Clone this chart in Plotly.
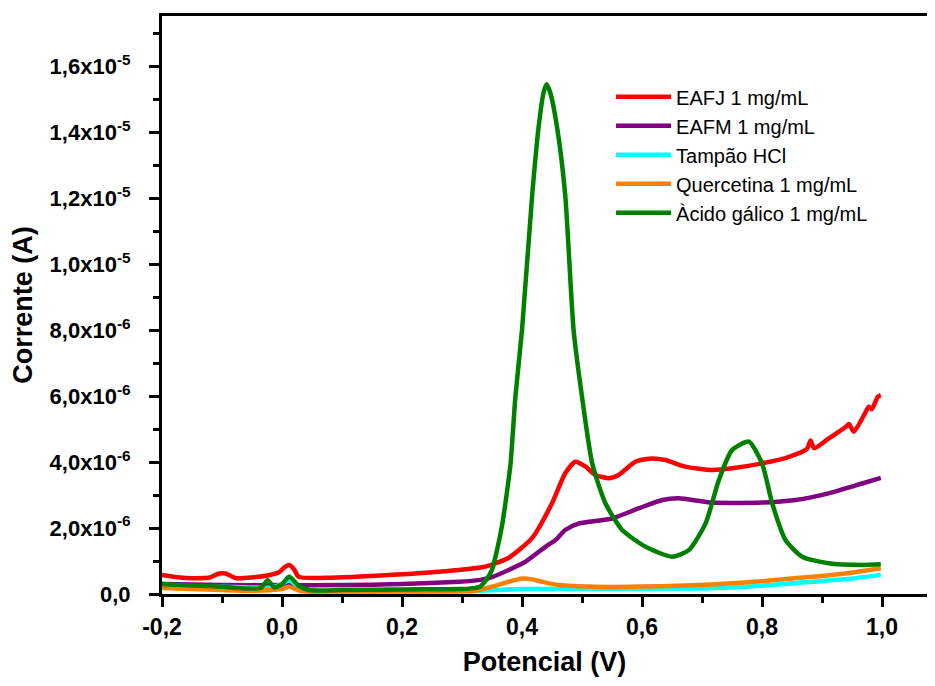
import plotly.graph_objects as go
import numpy as np

SCALE = 1e-6  # values below are read in units of 1e-6 A

names = ["EAFJ 1 mg/mL", "EAFM 1 mg/mL", "Tampão HCl", "Quercetina 1 mg/mL", "Àcido gálico 1 mg/mL"]
colors = ["#ff0000", "#800080", "#00ffff", "#ff8000", "#008000"]

eafj_x = [-0.2, -0.17, -0.149, -0.12, -0.105, -0.094, -0.077, -0.05, -0.022, -0.005, 0.005, 0.012, 0.02, 0.028,
          0.073, 0.184, 0.295, 0.339, 0.378, 0.417, 0.45, 0.472, 0.489, 0.506, 0.522, 0.545, 0.561, 0.589, 0.617,
          0.639, 0.672, 0.717, 0.75, 0.8, 0.845, 0.875, 0.881, 0.887, 0.91, 0.94, 0.945, 0.953, 0.97, 0.978,
          0.983, 0.993, 0.998]
eafj_y = [0.58, 0.50, 0.48, 0.50, 0.62, 0.62, 0.48, 0.50, 0.57, 0.66, 0.82, 0.88, 0.75, 0.52,
          0.49, 0.58, 0.73, 0.83, 1.10, 1.70, 2.75, 3.66, 4.01, 3.86, 3.61, 3.51, 3.61, 4.01, 4.11,
          4.06, 3.86, 3.76, 3.81, 3.96, 4.16, 4.40, 4.65, 4.42, 4.70, 5.07, 5.15, 4.92, 5.42, 5.68,
          5.60, 5.98, 6.03]

eafm_x = [-0.2, -0.1, 0.0, 0.1, 0.2, 0.295, 0.328, 0.351, 0.384, 0.406, 0.439, 0.456, 0.472, 0.495, 0.55,
          0.595, 0.634, 0.661, 0.717, 0.8, 0.856, 0.911, 0.967, 0.998]
eafm_y = [0.30, 0.27, 0.27, 0.27, 0.30, 0.37, 0.42, 0.52, 0.78, 0.98, 1.43, 1.64, 1.94, 2.14, 2.29,
          2.60, 2.85, 2.90, 2.77, 2.77, 2.85, 3.05, 3.35, 3.52]

tampao_x = [-0.2, -0.1, -0.02, 0.0, 0.012, 0.025, 0.04, 0.1, 0.3, 0.4, 0.7, 0.8, 0.883, 0.95, 0.998]
tampao_y = [0.25, 0.22, 0.20, 0.30, 0.42, 0.25, 0.08, 0.06, 0.08, 0.15, 0.17, 0.25, 0.37, 0.47, 0.58]

querc_x = [-0.2, -0.1, -0.05, 0.0, 0.012, 0.03, 0.1, 0.2, 0.3, 0.323, 0.35, 0.378, 0.4, 0.415, 0.434, 0.462,
           0.522, 0.661, 0.772, 0.883, 0.939, 0.998]
querc_y = [0.18, 0.12, 0.10, 0.15, 0.22, 0.10, 0.08, 0.08, 0.08, 0.10, 0.22, 0.37, 0.47, 0.45, 0.37, 0.27,
           0.22, 0.25, 0.35, 0.52, 0.62, 0.78]

galico_x = [-0.2, -0.15, -0.1, -0.06, -0.035, -0.024, -0.013, 0.0, 0.012, 0.028, 0.045, 0.1, 0.2, 0.3,
            0.315, 0.33, 0.34, 0.35, 0.358, 0.367, 0.375, 0.381, 0.389, 0.4, 0.417, 0.428, 0.436, 0.441, 0.447,
            0.458, 0.472, 0.486, 0.5, 0.517, 0.539, 0.567, 0.606, 0.65, 0.678, 0.706, 0.728, 0.75, 0.778, 0.8,
            0.817, 0.839, 0.867, 0.911, 0.967, 0.998]
galico_y = [0.30, 0.26, 0.22, 0.17, 0.18, 0.42, 0.20, 0.30, 0.52, 0.25, 0.12, 0.12, 0.14, 0.15,
            0.17, 0.22, 0.42, 0.73, 1.30, 2.10, 3.10, 3.96, 5.98, 8.00, 12.1, 14.2, 15.2, 15.45, 15.2,
            14.2, 12.1, 8.0, 5.98, 3.96, 2.75, 1.94, 1.43, 1.13, 1.33, 2.14, 3.45, 4.36, 4.62, 3.96,
            2.75, 1.64, 1.13, 0.93, 0.88, 0.90]

y_tickvals = [0, 2e-6, 4e-6, 6e-6, 8e-6, 1.0e-5, 1.2e-5, 1.4e-5, 1.6e-5]
y_ticktext = ["0,0", "2,0x10<sup>-6</sup>", "4,0x10<sup>-6</sup>", "6,0x10<sup>-6</sup>", "8,0x10<sup>-6</sup>",
              "1,0x10<sup>-5</sup>", "1,2x10<sup>-5</sup>", "1,4x10<sup>-5</sup>", "1,6x10<sup>-5</sup>"]
x_tickvals = [-0.2, 0.0, 0.2, 0.4, 0.6, 0.8, 1.0]
x_ticktext = ["-0,2", "0,0", "0,2", "0,4", "0,6", "0,8", "1,0"]

series = [(eafj_x, eafj_y), (eafm_x, eafm_y), (tampao_x, tampao_y), (querc_x, querc_y), (galico_x, galico_y)]

fig = go.Figure()
for (xs, ys), name, c in zip(series, names, colors):
    fig.add_trace(go.Scatter(x=xs, y=np.array(ys) * SCALE, mode="lines", name=name,
                             line=dict(color=c, width=4.5, shape="spline", smoothing=0.6)))

FAM = "Liberation Sans, Arial"

# page has an 8px body margin; figure sized so the page fits 935x686 exactly
fig.update_layout(
    width=919, height=670,
    margin=dict(l=154, r=0, t=8, b=84),
    paper_bgcolor="white", plot_bgcolor="white",
    showlegend=True,
    legend=dict(x=0.587, y=0.894, xanchor="left", yanchor="top", bgcolor="rgba(0,0,0,0)",
                font=dict(family=FAM, size=20, color="black"),
                itemwidth=55),
    xaxis=dict(range=[-0.2, 1.075], showgrid=False, zeroline=False, showline=True, linecolor="black",
               linewidth=3, mirror=True, ticks="outside", ticklen=10, tickwidth=3, tickcolor="black",
               tickvals=x_tickvals, ticktext=x_ticktext,
               tickfont=dict(family=FAM, size=23, color="black", weight="bold"),
               minor=dict(dtick=0.1, tick0=0, ticks="outside", ticklen=6, tickwidth=3, tickcolor="black"),
               title=dict(text="Potencial (V)", font=dict(family=FAM, size=27, color="black", weight="bold"),
                          standoff=14)),
    yaxis=dict(range=[0, 17.52e-6], showgrid=False, zeroline=False, showline=True, linecolor="black",
               linewidth=3, ticks="outside", ticklen=10, tickwidth=3, tickcolor="black",
               tickvals=y_tickvals, ticktext=y_ticktext,
               tickfont=dict(family=FAM, size=22, color="black", weight="bold"), ticklabelstandoff=14,
               minor=dict(dtick=1e-6, tick0=0, ticks="outside", ticklen=6, tickwidth=3, tickcolor="black"),
               title=dict(text="Corrente (A)", font=dict(family=FAM, size=27, color="black", weight="bold"),
                          standoff=12)),
)

fig.write_html("out.html")
